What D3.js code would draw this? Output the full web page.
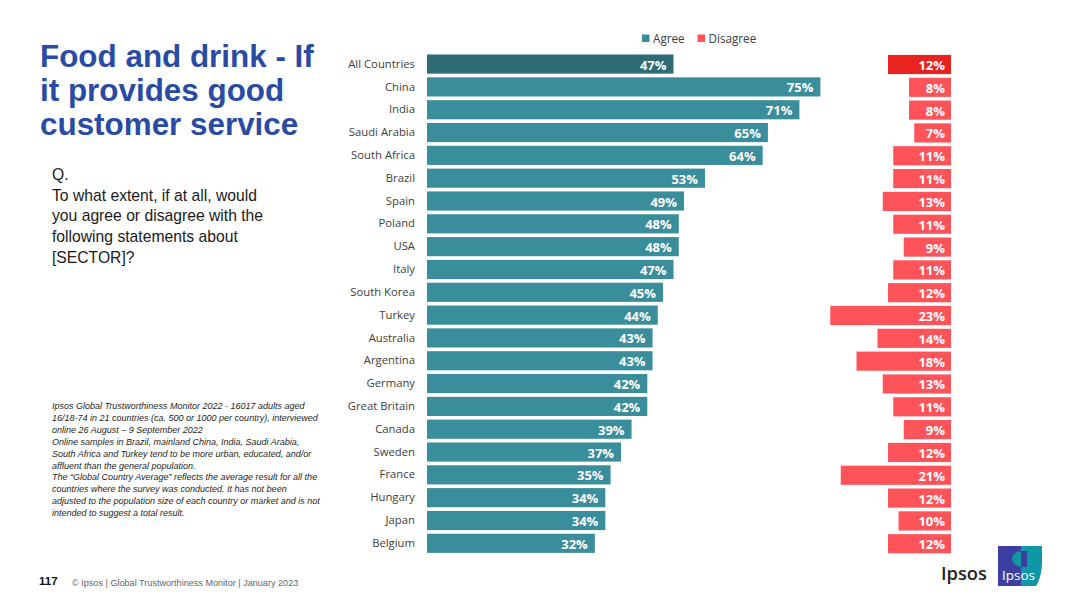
<!DOCTYPE html>
<html>
<head>
    <title>Food and drink - If it provides good customer service</title>
    <script src="https://d3js.org/d3.v7.min.js"></script>
    <style>
        html, body { margin: 0; padding: 0; background: #fff; }
        svg { display: block; }
        .arial { font-family: "Liberation Sans", Arial, sans-serif; }
        .chart { font-family: "Open Sans", "Noto Sans", sans-serif; }
    </style>
</head>
<body>
<div id="slide"></div>
<script>
    const countries = ["All Countries", "China", "India", "Saudi Arabia", "South Africa", "Brazil", "Spain", "Poland", "USA", "Italy", "South Korea", "Turkey", "Australia", "Argentina", "Germany", "Great Britain", "Canada", "Sweden", "France", "Hungary", "Japan", "Belgium"];
    const agree = [47, 75, 71, 65, 64, 53, 49, 48, 48, 47, 45, 44, 43, 43, 42, 42, 39, 37, 35, 34, 34, 32];
    const disagree = [12, 8, 8, 7, 11, 11, 13, 11, 9, 11, 12, 23, 14, 18, 13, 11, 9, 12, 21, 12, 10, 12];
    const seriesNames = ["Agree", "Disagree"];

    const titleLines = ["Food and drink - If", "it provides good", "customer service"];
    const questionLines = ["Q.", "To what extent, if at all, would", "you agree or disagree with the", "following statements about", "[SECTOR]?"];
    const noteLines = [
        "Ipsos Global Trustworthiness Monitor 2022 - 16017 adults aged",
        "16/18-74 in 21 countries (ca. 500 or 1000 per country), interviewed",
        "online 26 August \u2013 9 September 2022",
        "Online samples in Brazil, mainland China, India, Saudi Arabia,",
        "South Africa and Turkey tend to be more urban, educated, and/or",
        "affluent than the general population.",
        "The \u201cGlobal Country Average\u201d reflects the average result for all the",
        "countries where the survey was conducted. It has not been",
        "adjusted to the population size of each country or market and is not",
        "intended to suggest a total result."
    ];

    const svg = d3.select("#slide").append("svg")
        .attr("width", 1080)
        .attr("height", 607);

    const y = d3.scaleBand()
        .domain(countries)
        .range([54.5, 552.9])
        .paddingInner(0.16);

    const xAgree = d3.scaleLinear().domain([0, 100]).range([427, 951.5]);
    const xDisagree = d3.scaleLinear().domain([0, 100]).range([951, 426]);

    // country labels
    const axis = svg.append("g")
        .attr("class", "chart")
        .attr("transform", "translate(415,0)")
        .call(d3.axisLeft(y).tickSize(0).tickPadding(0));
    axis.select(".domain").remove();
    axis.selectAll("text")
        .attr("fill", "#404040")
        .style("font-size", "11.3px");

    // agree bars
    const chart = svg.append("g").attr("class", "chart");
    chart.selectAll(".agree")
        .data(agree)
        .enter()
        .append("rect")
        .attr("class", "agree")
        .attr("x", xAgree(0))
        .attr("y", (d, i) => y(countries[i]))
        .attr("width", d => xAgree(d) - xAgree(0))
        .attr("height", y.bandwidth())
        .attr("fill", (d, i) => i === 0 ? "#2f6b75" : "#3a8e9b");

    chart.selectAll(".agreeLabel")
        .data(agree)
        .enter()
        .append("text")
        .attr("class", "agreeLabel")
        .text(d => d + "%")
        .attr("x", d => xAgree(d) - 7)
        .attr("y", (d, i) => y(countries[i]) + y.bandwidth() / 2 + 5.5)
        .attr("text-anchor", "end")
        .attr("fill", "#fff")
        .style("font-size", "13px")
        .style("font-weight", "700");

    // disagree bars
    chart.selectAll(".disagree")
        .data(disagree)
        .enter()
        .append("rect")
        .attr("class", "disagree")
        .attr("x", d => xDisagree(d))
        .attr("y", (d, i) => y(countries[i]) + 0.4)
        .attr("width", d => xDisagree(0) - xDisagree(d))
        .attr("height", y.bandwidth())
        .attr("fill", (d, i) => i === 0 ? "#e82322" : "#fe5459");

    chart.selectAll(".disagreeLabel")
        .data(disagree)
        .enter()
        .append("text")
        .attr("class", "disagreeLabel")
        .text(d => d + "%")
        .attr("x", xDisagree(0) - 6)
        .attr("y", (d, i) => y(countries[i]) + y.bandwidth() / 2 + 5.9)
        .attr("text-anchor", "end")
        .attr("fill", "#fff")
        .style("font-size", "13px")
        .style("font-weight", "700");

    // legend
    const legend = svg.append("g").attr("class", "chart");
    const legendX = [642, 697.5];
    legend.selectAll("rect")
        .data(seriesNames)
        .enter()
        .append("rect")
        .attr("x", (d, i) => legendX[i])
        .attr("y", 34.5)
        .attr("width", 7.5)
        .attr("height", 7.5)
        .attr("fill", (d, i) => i === 0 ? "#3a8e9b" : "#fe5459");
    legend.selectAll("text")
        .data(seriesNames)
        .enter()
        .append("text")
        .text(d => d)
        .attr("x", (d, i) => legendX[i] + 11)
        .attr("y", 42.5)
        .attr("fill", "#404040")
        .style("font-size", "11.7px");

    // left column
    const left = svg.append("g").attr("class", "arial");
    left.selectAll(".title")
        .data(titleLines)
        .enter()
        .append("text")
        .attr("class", "title")
        .text(d => d)
        .attr("x", 40)
        .attr("y", (d, i) => 66.5 + i * 34)
        .attr("fill", "#2a4ba3")
        .style("font-size", "31.4px")
        .style("font-weight", "700");

    left.selectAll(".question")
        .data(questionLines)
        .enter()
        .append("text")
        .attr("class", "question")
        .text(d => d)
        .attr("x", 52)
        .attr("y", (d, i) => 180 + i * 20.7)
        .attr("fill", "#1a1a1a")
        .style("font-size", "15.7px");

    left.selectAll(".note")
        .data(noteLines)
        .enter()
        .append("text")
        .attr("class", "note")
        .text(d => d)
        .attr("x", 52)
        .attr("y", (d, i) => 409 + i * 11.9)
        .attr("fill", "#262626")
        .style("font-size", "9px")
        .style("font-style", "italic");

    // footer
    left.append("text")
        .text("117")
        .attr("x", 39)
        .attr("y", 585)
        .attr("fill", "#111")
        .style("font-size", "11.5px")
        .style("font-weight", "700");
    left.append("text")
        .text("\u00a9 Ipsos | Global Trustworthiness Monitor | January 2023")
        .attr("x", 72)
        .attr("y", 586)
        .attr("fill", "#666")
        .style("font-size", "9.1px");

    // logo
    const logo = svg.append("g");
    logo.append("text")
        .text("Ipsos")
        .attr("class", "chart")
        .attr("x", 941)
        .attr("y", 580)
        .attr("fill", "#222")
        .style("font-size", "18.3px")
        .style("font-weight", "600");
    logo.append("rect")
        .attr("x", 998)
        .attr("y", 546)
        .attr("width", 44)
        .attr("height", 40)
        .attr("fill", "#3b3f9f");
    logo.append("path")
        .attr("d", "M1021,546H1042V565Q1041,578 1036,586H1021Z")
        .attr("fill", "#0f97a3");
    logo.append("path")
        .attr("d", "M1036,586Q1041,578 1042,565V586Z")
        .attr("fill", "#fff");
    logo.append("path")
        .attr("d", "M1021,551Q1012,553 1012,559Q1012,565 1021,567Z")
        .attr("fill", "#0f97a3");
    logo.append("path")
        .attr("d", "M1021,551H1027V567H1021Z")
        .attr("fill", "#3b3f9f");
    logo.append("text")
        .text("Ipsos")
        .attr("class", "chart")
        .attr("x", 1002)
        .attr("y", 580)
        .attr("fill", "#fff")
        .style("font-size", "13.5px")
        .style("font-weight", "400");
</script>
</body>
</html>
